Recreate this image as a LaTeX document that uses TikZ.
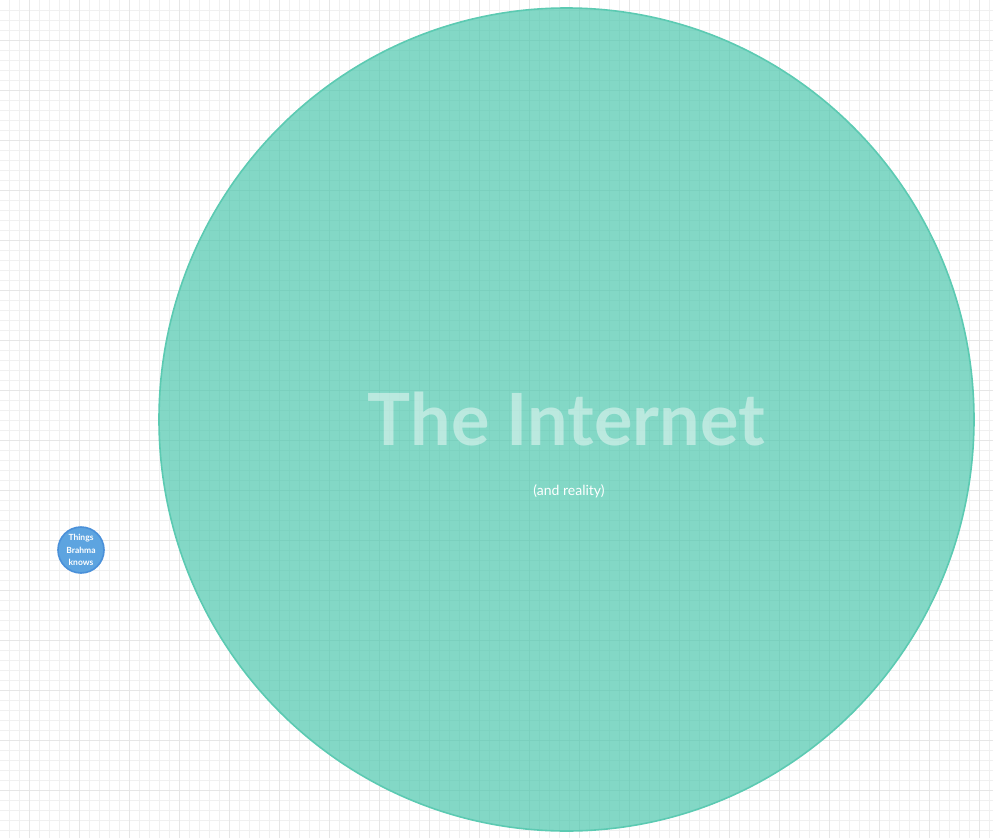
\documentclass[tikz,border=0pt]{standalone}
\usepackage{fontspec}
\setmainfont{Lato}
\usepackage{tikz}
\usetikzlibrary{positioning, shapes.geometric}
\definecolor{vnGrid}{HTML}{F0F0F0}
\definecolor{vnGridMajor}{HTML}{E6E6E6}
\definecolor{vnNet}{HTML}{4EC7AE}
\definecolor{vnNetLine}{HTML}{5CCAB2}
\definecolor{vnBrahma}{HTML}{5DA4E0}
\definecolor{vnBrahmaLine}{HTML}{4A90D9}
\tikzset{
  gridminor/.style={vnGrid, line width=0.7pt},
  gridmajor/.style={vnGridMajor, line width=0.7pt},
  bigset/.style={
    ellipse, draw=vnNetLine, line width=1.6pt, fill=vnNet, fill opacity=0.7,
    minimum width=815pt, minimum height=823pt, inner sep=0pt
  },
  smallset/.style={
    circle, draw=vnBrahmaLine, line width=1.6pt, fill=vnBrahma,
    minimum size=46pt, inner sep=0pt
  },
  settitle/.style={font=\fontsize{72}{72}\selectfont\bfseries, text=white, text opacity=0.45, inner sep=0pt},
  setnote/.style={font=\fontsize{14}{14}\selectfont, text=white, inner sep=0pt},
  setlabel/.style={font=\fontsize{8.5}{12.5}\selectfont\bfseries, text=white, align=center, inner sep=0pt}
}
\begin{document}
\begin{tikzpicture}[x=1pt, y=-1pt]
  \useasboundingbox (0,0) rectangle (993,838);
  % background grid
  \foreach \x in {9,19,...,989} \draw[gridminor] (\x,0) -- (\x,838);
  \foreach \y in {10,20,...,830} \draw[gridminor] (0,\y) -- (993,\y);
  \foreach \x in {29,79,...,979} \draw[gridmajor] (\x,0) -- (\x,838);
  \foreach \y in {40,90,...,790} \draw[gridmajor] (0,\y) -- (993,\y);
  % the two sets
  \node[bigset] (net) at (566.5,419.5) {};
  \node[settitle, anchor=base] (nettitle) at (566.5,445) {The Internet};
  \node[setnote] (netnote) at (569,491) {(and reality)};
  \node[smallset] (brahma) at (81,550) {};
  \node[setlabel] (brahmalabel) at (brahma.center) {Things\\Brahma\\knows};
\end{tikzpicture}
\end{document}
